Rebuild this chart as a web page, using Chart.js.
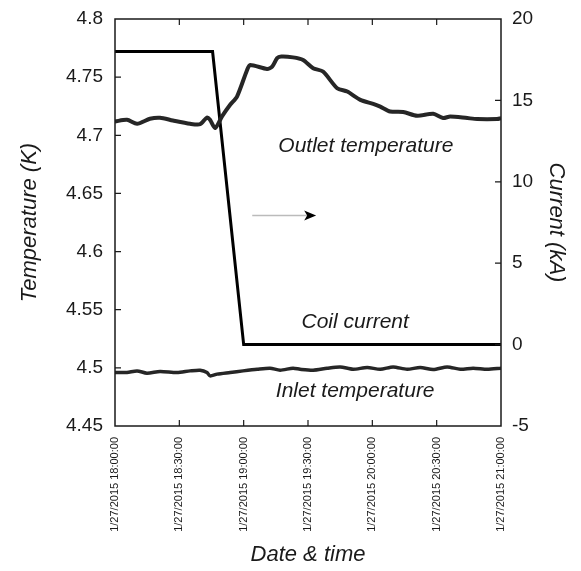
<!DOCTYPE html>
<html>
<head>
<meta charset="utf-8">
<script src="https://cdn.jsdelivr.net/npm/chart.js@4.4.1/dist/chart.umd.min.js"></script>
<style>
  html, body { margin: 0; padding: 0; background: #fff; }
  #wrap { width: 581px; height: 571px; }
</style>
</head>
<body>
<div id="wrap"><canvas id="chart" width="581" height="571"></canvas></div>
<script>
// times are minutes after 1/27/2015 18:00:00
const outletTimes = [0, 5.6, 10.3, 16.3, 21, 27, 35, 39.7, 42.9, 44.3, 46.7, 49.9, 53.7, 56.9, 61.6, 63, 70.9, 73.3, 75.6, 77.5, 83, 87.7, 92.4, 97, 103.6, 108.3, 114.4, 120.4, 123.7, 128.3, 134.4, 140.9, 148.4, 153, 156.3, 164.3, 168.9, 178.2, 180];
const outletTemps = [4.7119, 4.7133, 4.7099, 4.7142, 4.7151, 4.7127, 4.7099, 4.7095, 4.7153, 4.7133, 4.7062, 4.7162, 4.7262, 4.7333, 4.7562, 4.7605, 4.7571, 4.7591, 4.7663, 4.7677, 4.767, 4.7648, 4.7577, 4.7548, 4.7405, 4.7376, 4.7305, 4.727, 4.7247, 4.7205, 4.72, 4.7168, 4.7185, 4.7148, 4.7162, 4.7148, 4.714, 4.714, 4.7146];

const inletTimes = [0, 5.6, 10.3, 14.9, 21, 28.9, 35, 39.7, 42.9, 44.3, 47.6, 53.7, 59.7, 66.3, 72.3, 77, 83, 86.3, 92.4, 98.9, 105, 111, 117.6, 123.7, 129.7, 136.2, 142.3, 148.4, 154.9, 161, 167, 173.6, 180];
const inletTemps = [4.496, 4.496, 4.4974, 4.4954, 4.4969, 4.496, 4.4974, 4.498, 4.496, 4.4931, 4.4946, 4.496, 4.4974, 4.4988, 4.4997, 4.498, 4.4997, 4.4988, 4.498, 4.4997, 4.5008, 4.4988, 4.5003, 4.4988, 4.5008, 4.4988, 4.5003, 4.4986, 4.5008, 4.4988, 4.4997, 4.4988, 4.4997];

const coilTimes = [0, 45.5, 60, 180];
const coilCurrent = [18, 18, 0, 0];

const tempTicks = { min: 4.45, max: 4.8, step: 0.05 };
const currentTicks = { min: -5, max: 20, step: 5 };
const timeTicks = { min: 0, max: 180, step: 30 };

const ink = '#1a1a1a';
const fontFamily = '"Liberation Sans", Arial, Helvetica, sans-serif';

const pairs = (xs, ys) => xs.map((x, i) => ({ x: x, y: ys[i] }));

const timeLabel = m => {
    const h = 18 + Math.floor(m / 60);
    const mm = Math.round(m % 60);
    return '1/27/2015 ' + h + ':' + String(mm).padStart(2, '0') + ':00';
};

// box round the plot with ticks pointing inwards
const framePlugin = {
    id: 'frame',
    afterDraw(chart) {
        const { ctx, chartArea: a, scales } = chart;
        ctx.save();
        ctx.strokeStyle = ink;
        ctx.lineWidth = 1.5;
        ctx.strokeRect(a.left, a.top, a.right - a.left, a.bottom - a.top);
        ctx.lineWidth = 1.2;
        ctx.beginPath();
        scales.x.ticks.forEach(t => {
            const px = scales.x.getPixelForValue(t.value);
            if (px <= a.left + 1 || px >= a.right - 1) return;
            ctx.moveTo(px, a.bottom); ctx.lineTo(px, a.bottom - 6);
            ctx.moveTo(px, a.top); ctx.lineTo(px, a.top + 6);
        });
        scales.y.ticks.forEach(t => {
            const py = scales.y.getPixelForValue(t.value);
            if (py <= a.top + 1 || py >= a.bottom - 1) return;
            ctx.moveTo(a.left, py); ctx.lineTo(a.left + 6, py);
        });
        scales.y1.ticks.forEach(t => {
            const py = scales.y1.getPixelForValue(t.value);
            if (py <= a.top + 1 || py >= a.bottom - 1) return;
            ctx.moveTo(a.right, py); ctx.lineTo(a.right - 6, py);
        });
        ctx.stroke();
        ctx.restore();
    }
};

// curve names and the little arrow
const notesPlugin = {
    id: 'notes',
    afterDatasetsDraw(chart) {
        const { ctx, scales } = chart;
        const px = v => scales.x.getPixelForValue(v);
        const py = v => scales.y.getPixelForValue(v);
        ctx.save();
        ctx.fillStyle = ink;
        ctx.font = 'italic 21px ' + fontFamily;
        ctx.textAlign = 'center';
        ctx.textBaseline = 'middle';
        ctx.fillText('Outlet temperature', px(117), py(4.691));
        ctx.fillText('Coil current', px(112), py(4.539));
        ctx.fillText('Inlet temperature', px(112), py(4.48));

        const y = py(4.631);
        const x0 = px(64), x1 = px(93.8);
        ctx.strokeStyle = '#bbbbbb';
        ctx.lineWidth = 1.5;
        ctx.beginPath();
        ctx.moveTo(x0, y); ctx.lineTo(x1 - 8, y);
        ctx.stroke();
        ctx.fillStyle = '#000';
        ctx.beginPath();
        ctx.moveTo(x1, y);
        ctx.lineTo(x1 - 12, y - 5);
        ctx.lineTo(x1 - 9, y);
        ctx.lineTo(x1 - 12, y + 5);
        ctx.closePath();
        ctx.fill();
        ctx.restore();
    }
};

const ctx = document.getElementById('chart').getContext('2d');

new Chart(ctx, {
    type: 'line',
    data: {
        datasets: [
            {
                label: 'Outlet temperature',
                data: pairs(outletTimes, outletTemps),
                yAxisID: 'y',
                borderColor: '#262626',
                borderWidth: 4,
                pointRadius: 0,
                tension: 0.25
            },
            {
                label: 'Inlet temperature',
                data: pairs(inletTimes, inletTemps),
                yAxisID: 'y',
                borderColor: '#262626',
                borderWidth: 3.5,
                pointRadius: 0,
                tension: 0.25
            },
            {
                label: 'Coil current',
                data: pairs(coilTimes, coilCurrent),
                yAxisID: 'y1',
                borderColor: '#000',
                borderWidth: 3,
                pointRadius: 0,
                tension: 0
            }
        ]
    },
    options: {
        responsive: false,
        animation: false,
        layout: { padding: { top: 19, right: 0, bottom: 0, left: 0 } },
        plugins: {
            legend: { display: false },
            tooltip: { enabled: false }
        },
        scales: {
            x: {
                type: 'linear',
                min: timeTicks.min,
                max: timeTicks.max,
                grid: { display: false },
                border: { display: false },
                ticks: {
                    stepSize: timeTicks.step,
                    minRotation: 90,
                    maxRotation: 90,
                    padding: 3,
                    color: ink,
                    font: { family: fontFamily, size: 11 },
                    callback: v => timeLabel(v)
                },
                title: {
                    display: true,
                    text: 'Date & time',
                    color: ink,
                    font: { family: fontFamily, size: 22, style: 'italic' },
                    padding: { top: 0, bottom: 3 }
                },
                afterFit: s => { s.height = 145; }
            },
            y: {
                position: 'left',
                min: tempTicks.min,
                max: tempTicks.max,
                grid: { display: false },
                border: { display: false },
                ticks: {
                    stepSize: tempTicks.step,
                    padding: 4,
                    color: ink,
                    font: { family: fontFamily, size: 19 },
                    callback: v => parseFloat(v.toFixed(2)).toString()
                },
                title: {
                    display: true,
                    text: 'Temperature (K)',
                    color: ink,
                    font: { family: fontFamily, size: 22, style: 'italic' },
                    padding: { top: 17, bottom: 0 }
                },
                afterFit: s => { s.width = 115; }
            },
            y1: {
                position: 'right',
                min: currentTicks.min,
                max: currentTicks.max,
                grid: { display: false },
                border: { display: false },
                ticks: {
                    stepSize: currentTicks.step,
                    padding: 3,
                    color: ink,
                    font: { family: fontFamily, size: 19 }
                },
                title: {
                    display: true,
                    text: 'Current (kA)',
                    color: ink,
                    font: { family: fontFamily, size: 22, style: 'italic' },
                    padding: { top: 12, bottom: 0 }
                },
                afterFit: s => { s.width = 80; }
            }
        }
    },
    plugins: [framePlugin, notesPlugin]
});
</script>
</body>
</html>
